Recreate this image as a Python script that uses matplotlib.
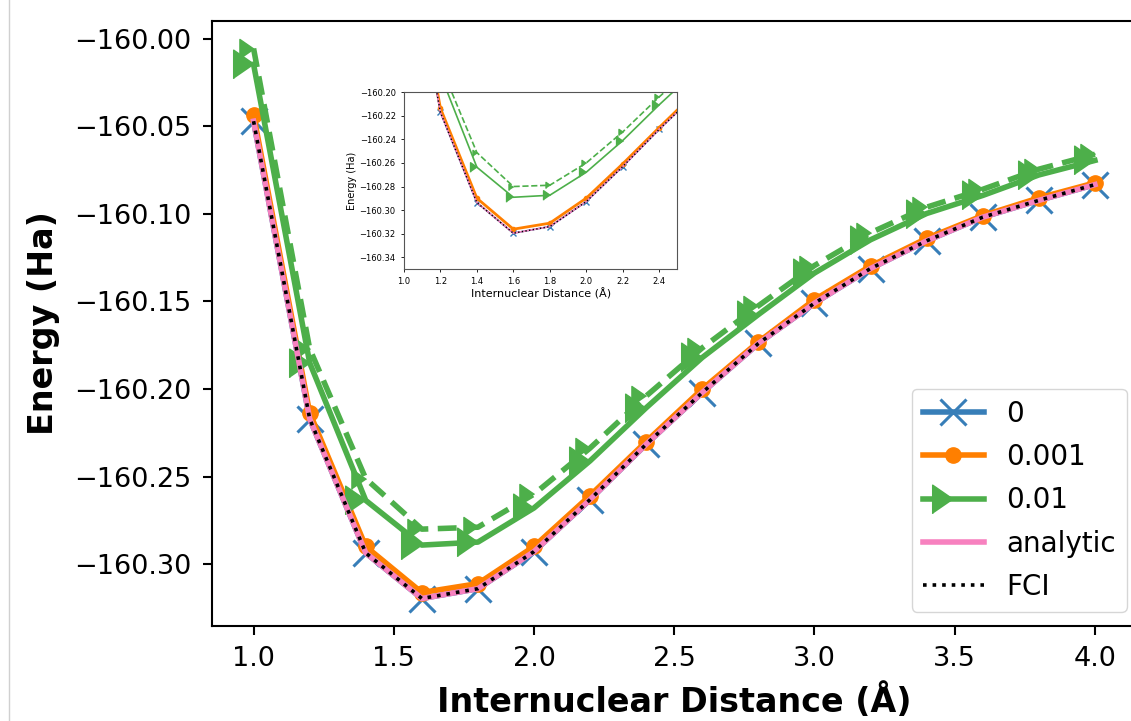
import matplotlib
matplotlib.use("Agg")
import matplotlib.pyplot as plt
from matplotlib.lines import Line2D

# ---- data ----
distance = [1.0, 1.2, 1.4, 1.6, 1.8, 2.0, 2.2, 2.4, 2.6, 2.8, 3.0, 3.2, 3.4, 3.6, 3.8, 4.0]

e_noise_0 = [-160.0471, -160.2170, -160.2936, -160.3196, -160.3140, -160.2928, -160.2631, -160.2315,
             -160.2020, -160.1740, -160.1510, -160.1312, -160.1154, -160.1019, -160.0923, -160.0833]
e_noise_0001 = [-160.0433, -160.2136, -160.2899, -160.3162, -160.3111, -160.2899, -160.2608, -160.2300,
                -160.2000, -160.1731, -160.1490, -160.1298, -160.1140, -160.1010, -160.0909, -160.0823]
e_noise_001 = [-160.0146, -160.1850, -160.2636, -160.2891, -160.2874, -160.2679, -160.2410, -160.2107,
               -160.1820, -160.1575, -160.1338, -160.1148, -160.0998, -160.0895, -160.0778, -160.0695]
e_noise_001_dashed = [-160.0056, -160.1770, -160.2512, -160.2800, -160.2789, -160.2600, -160.2337, -160.2040,
                      -160.1765, -160.1525, -160.1295, -160.1108, -160.0962, -160.0860, -160.0745, -160.0660]
e_analytic = [-160.0471, -160.2170, -160.2936, -160.3196, -160.3140, -160.2928, -160.2631, -160.2315,
              -160.2020, -160.1740, -160.1510, -160.1312, -160.1154, -160.1019, -160.0923, -160.0833]
e_fci = [-160.0471, -160.2170, -160.2936, -160.3196, -160.3140, -160.2928, -160.2631, -160.2315,
         -160.2020, -160.1740, -160.1510, -160.1312, -160.1154, -160.1019, -160.0923, -160.0833]

series_labels = ["0", "0.001", "0.01", "analytic", "FCI"]
x_label = "Internuclear Distance (Å)"
y_label = "Energy (Ha)"

# ---- style ----
C_BLUE = "#377eb8"
C_ORANGE = "#ff7f00"
C_GREEN = "#4daf4a"
C_PINK = "#f781bf"
TRI = [(0, 0), (-1, 0.69), (-1, -0.69)]  # right-pointing triangle with tip on the point

fig = plt.figure(figsize=(11.31, 7.21), dpi=100)
ax = fig.add_axes([211.5 / 1131, (721 - 626) / 721, (1137 - 211.5) / 1131, (626 - 21) / 721])

l0, = ax.plot(distance, e_noise_0, color=C_BLUE, lw=4, marker="x", ms=19, mew=2.2, label=series_labels[0])
l1, = ax.plot(distance, e_noise_0001, color=C_ORANGE, lw=4, marker="o", ms=11, label=series_labels[1])
l2, = ax.plot(distance, e_noise_001, color=C_GREEN, lw=4, marker=TRI, ms=30, label=series_labels[2])
ax.plot(distance, e_noise_001_dashed, color=C_GREEN, lw=4, ls=(0, (3.4, 1.7)), marker=TRI, ms=21)
l3, = ax.plot(distance, e_analytic, color=C_PINK, lw=4, label=series_labels[3])
l4, = ax.plot(distance, e_fci, color="black", lw=2.6, ls=":", label=series_labels[4])

ax.set_xlim(0.85, 4.15)
ax.set_xticks([1.0, 1.5, 2.0, 2.5, 3.0, 3.5, 4.0])
ax.set_yticks([-160.00, -160.05, -160.10, -160.15, -160.20, -160.25, -160.30])
ax.tick_params(labelsize=19.5, length=6.5, width=1.5, pad=8)
for s in ax.spines.values():
    s.set_linewidth(1.5)
ax.set_xlabel(x_label, fontsize=24, fontweight="bold", labelpad=8)
ax.set_ylabel(y_label, fontsize=24, fontweight="bold", labelpad=10)

ax.legend(handles=[l0, l1, l2, l3, l4], loc="lower right", bbox_to_anchor=(1127 / 1131, (721 - 612) / 721),
          bbox_transform=fig.transFigure, borderaxespad=0, fontsize=20, handlelength=2.2,
          labelspacing=0.55)

# ---- inset ----
axi = fig.add_axes([404 / 1131, (721 - 269) / 721, (677.3 - 404) / 1131, (269 - 92.3) / 721])
axi.plot(distance, e_noise_0, color=C_BLUE, lw=1.2, marker="x", ms=5, mew=1)
axi.plot(distance, e_noise_0001, color=C_ORANGE, lw=2, marker="o", ms=3)
axi.plot(distance, e_noise_001, color=C_GREEN, lw=1.2, marker=TRI, ms=10)
axi.plot(distance, e_noise_001_dashed, color=C_GREEN, lw=1.2, ls="--", marker=TRI, ms=6.5)
axi.plot(distance, e_analytic, color=C_PINK, lw=1.2)
axi.plot(distance, e_fci, color="black", lw=1.0, ls=":")
axi.set_xlim(1.0, 2.5)
axi.set_ylim(-160.35, -160.20)
axi.set_xticks([1.0, 1.2, 1.4, 1.6, 1.8, 2.0, 2.2, 2.4])
axi.set_yticks([-160.34, -160.32, -160.30, -160.28, -160.26, -160.24, -160.22, -160.20])
axi.tick_params(labelsize=6, length=2.5, width=0.6)
for s in axi.spines.values():
    s.set_linewidth(0.8)
    s.set_color("#555555")
axi.set_xlabel(x_label, fontsize=8, labelpad=1)
axi.set_ylabel(y_label, fontsize=7, labelpad=2)

# light vertical border line at the left edge of the picture
fig.add_artist(Line2D([8.5 / 1131, 8.5 / 1131], [0, 1], transform=fig.transFigure, color="#d0d0d0", lw=1))

fig.savefig("out.png", dpi=100)
